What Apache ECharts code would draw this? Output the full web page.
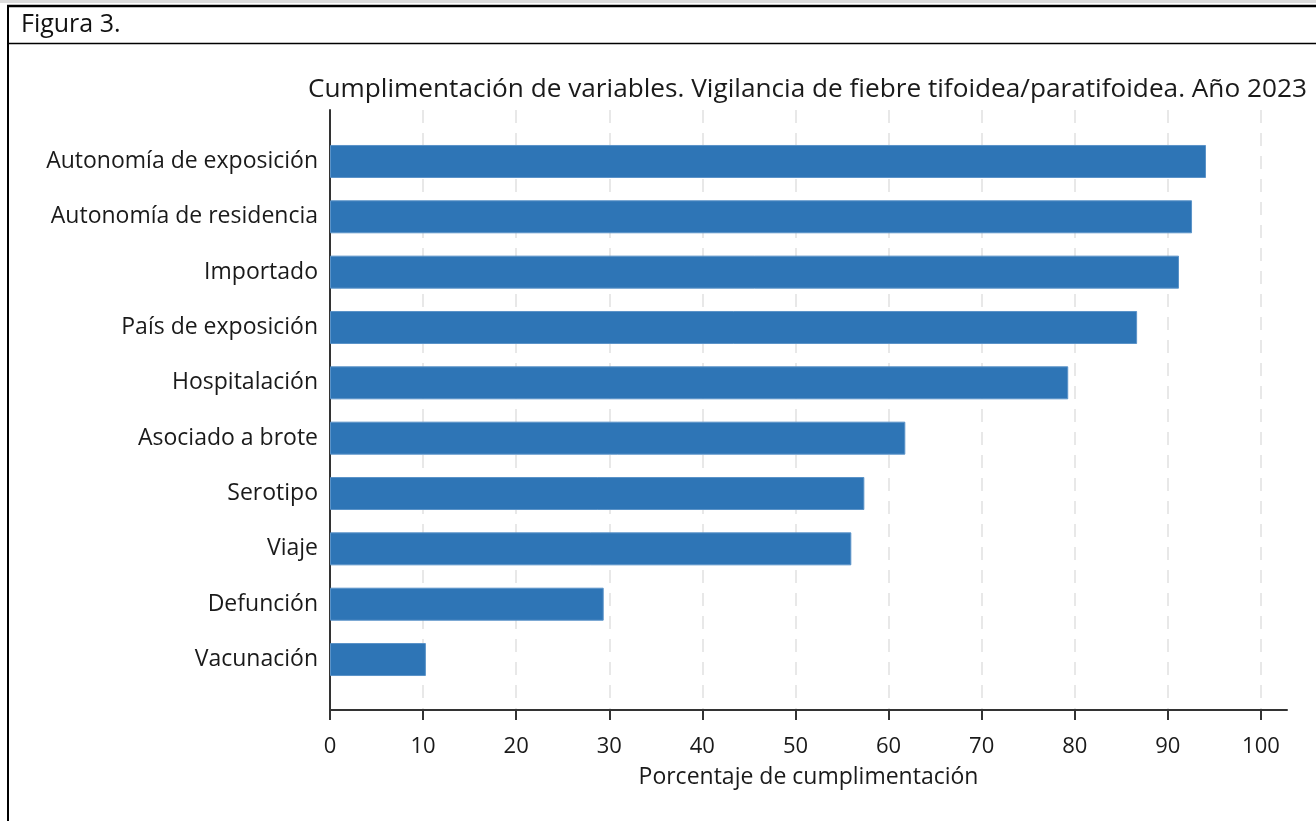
<!DOCTYPE html>
<html>
<head>
<meta charset="utf-8">
<script src="https://cdn.jsdelivr.net/npm/echarts@6/dist/echarts.min.js"></script>
<style>
html,body{margin:0;padding:0;background:#fff;}
#chart{width:1316px;height:821px;}
</style>
</head>
<body>
<div id="chart"></div>
<script>
const categories = ["Autonomía de exposición","Autonomía de residencia","Importado","País de exposición","Hospitalación","Asociado a brote","Serotipo","Viaje","Defunción","Vacunación"];
const values = [94.1, 92.6, 91.2, 86.7, 79.3, 61.8, 57.4, 56.0, 29.4, 10.3];
const tickValues = [0,10,20,30,40,50,60,70,80,90,100];
const titleText = "Cumplimentación de variables. Vigilancia de fiebre tifoidea/paratifoidea. Año 2023";
const axisName = "Porcentaje de cumplimentación";
const figLabel = "Figura 3.";

const FONT = "Open Sans";
const chart = echarts.init(document.getElementById('chart'));
const XMAX = 102.8;
chart.setOption({
  backgroundColor: '#fff',
  animation: false,
  textStyle: {fontFamily: FONT},
  title: {
    text: titleText, left: 303, top: 72,
    textStyle: {fontFamily: FONT, fontSize: 26.2, fontWeight: 'normal', color: '#1a1a1a'}
  },
  graphic: [
    {type:'rect', shape:{x:0,y:0,width:1316,height:3}, style:{fill:'#dcdcdc'}, silent:true},
    {type:'line', shape:{x1:7,y1:6,x2:1316,y2:6}, style:{stroke:'#000',lineWidth:2.5}, silent:true},
    {type:'line', shape:{x1:8,y1:5,x2:8,y2:821}, style:{stroke:'#000',lineWidth:2}, silent:true},
    {type:'line', shape:{x1:7,y1:43.5,x2:1316,y2:43.5}, style:{stroke:'#000',lineWidth:1.5}, silent:true},
    {type:'text', left:21, top:12, style:{text:figLabel, fontFamily:FONT, fontSize:25, fill:'#111'}}
  ],
  grid: [
    {left:330, right:29, top:110, bottom:111},
    {left:330, right:29, top:133.8, bottom:133.8}
  ],
  xAxis: [
    {
      type:'value', gridIndex:0, min:0, max:XMAX,
      axisLine:{show:true, lineStyle:{color:'#333', width:2}},
      axisTick:{show:true, inside:false, length:10, customValues: tickValues, lineStyle:{color:'#333', width:2}},
      axisLabel:{customValues: tickValues, fontSize:22, color:'#1a1a1a', margin:26, fontFamily:FONT},
      splitLine:{show:true, lineStyle:{color:'#e8e8e8', width:2, type:[13,10]}},
      name: axisName, nameLocation:'middle', nameGap:56,
      nameTextStyle:{fontSize:23, color:'#1a1a1a', fontFamily:FONT}
    },
    {
      type:'value', gridIndex:1, min:0, max:XMAX, show:false,
      splitLine:{show:false}
    }
  ],
  yAxis: [
    {
      type:'value', gridIndex:0, min:0, max:1,
      axisLine:{show:true, lineStyle:{color:'#333', width:2}},
      axisTick:{show:false}, axisLabel:{show:false}, splitLine:{show:false}
    },
    {
      type:'category', gridIndex:1, data:categories, inverse:true,
      axisLine:{show:false}, axisTick:{show:false}, splitLine:{show:false},
      axisLabel:{fontSize:23, color:'#1a1a1a', margin:12, fontFamily:FONT}
    }
  ],
  series: [{
    type:'bar', xAxisIndex:1, yAxisIndex:1, data:values, barWidth:33,
    itemStyle:{color:'#2e75b6', borderColor:'#5b93c8', borderWidth:1},
    z:3
  }]
});
</script>
</body>
</html>
